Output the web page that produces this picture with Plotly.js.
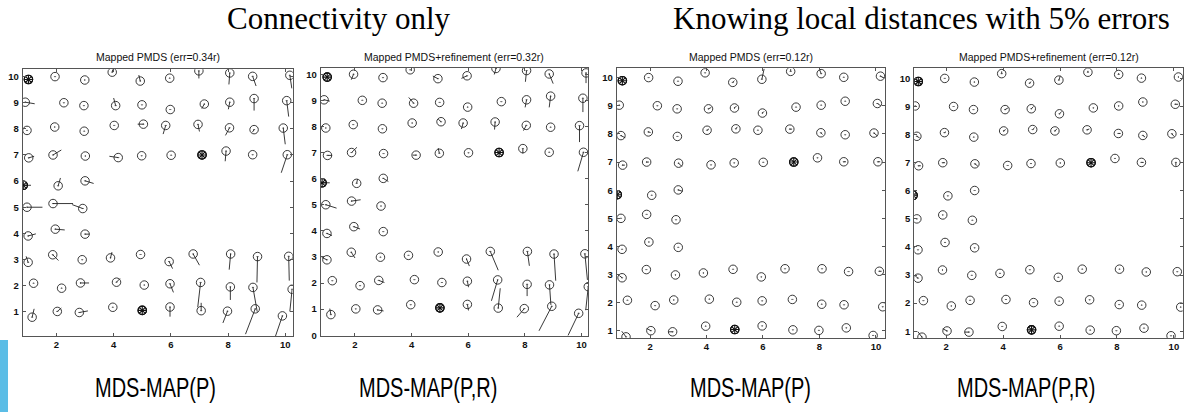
<!DOCTYPE html>
<html><head><meta charset="utf-8">
<script src="https://cdn.plot.ly/plotly-3.0.1.min.js"></script>
<style>html,body{margin:0;padding:0;background:#fff}#chart{width:1189px;height:412px}</style>
</head><body><div id="chart"></div>
<script>
// True node positions (rows 10..1)
const nodeX = [
 1.02,1.95,2.99,3.95,4.93,5.96,6.98,8.06,8.86,10.16,
 0.91,2.26,2.96,4.07,4.99,5.98,7.17,8.06,8.91,10.05,
 0.97,1.94,2.97,4.02,5.04,5.82,6.95,8.05,8.91,9.93,
 1.03,1.88,3.01,4.16,4.98,6.01,7.09,7.93,8.86,10.07,
 0.84,2.06,3.00,
 0.97,1.88,2.92,
 1.01,1.96,3.00,
 1.01,1.87,2.90,3.89,4.94,5.94,6.78,8.09,9.03,10.12,
 1.20,2.18,2.84,4.10,5.07,5.97,7.04,8.08,8.87,10.24,
 1.15,2.03,2.80,3.97,5.00,5.97,7.06,7.98,8.95,9.90];
const nodeY = [
 9.89,10.0,9.87,10.17,9.83,9.94,10.22,10.14,10.01,10.05,
 9.02,9.00,8.89,8.89,8.92,8.74,8.95,9.02,9.16,9.08,
 7.94,8.07,7.91,8.13,8.18,8.13,8.17,8.04,7.97,8.03,
 6.89,7.00,6.96,6.90,6.97,6.99,7.00,7.15,7.01,7.01,
 5.84,5.82,6.01,
 5.00,5.14,4.95,
 3.90,4.16,3.97,
 2.89,3.18,2.99,3.06,3.19,2.92,3.21,3.21,3.11,3.12,
 2.09,1.90,2.10,2.13,2.02,2.07,2.12,1.95,1.93,1.86,
 0.79,1.01,0.97,1.17,1.05,1.18,1.04,1.02,1.11,0.84];
const anchorIdx = [0, 36, 40, 73];

// Position errors (estimated - true) for each panel
const p1dx = [0,0,0,0.02,-0.05,0,0,-0.03,0.12,0.07, 0.33,0,0,-0.07,0,0,-0.09,-0.05,0,0.07, 0,0,0,0,-0.2,-0.09,0.05,-0.14,-0.06,0.07, 0.19,0.29,0,-0.31,0,0,0,-0.03,0,-0.21, 0.27,0.08,0.3, 0.54,0.7,-0.37, 0.27,0.33,0.16, -0.07,0.2,0,0.05,0,0.12,0.22,-0.05,-0.02,0.02, 0,0,0.3,0.12,0,0.12,-0.1,0,0.15,-0.08, 0.07,0.14,0.3,0,0,0,0,-0.16,-0.34,-0.24];
const p1dy = [0,0,0,0.11,0.23,0,-0.29,-0.44,-0.37,-0.5, -0.06,0,0,0.29,0,0,-0.17,-0.27,-0.46,-0.61, 0,0,0,0,0,-0.33,-0.27,-0.29,-0.1,-0.62, 0.06,0.19,0,0.05,0,0,0,-0.39,0,-0.69, 0,0.3,-0.1, 0,0,0.15, 0.08,-0.03,0, 0.23,-0.22,0,0.22,0,-0.27,-0.43,-0.6,-0.99,-0.93, 0,0,0,0.14,0,-0.33,-0.95,-0.5,-0.93,-0.85, 0.32,0.13,0.06,0,0,-0.37,0.3,-0.45,-0.97,-0.77];
const p2dx = [0,-0.08,0,0,-0.18,-0.2,-0.06,-0.04,0.14,0, 0.2,0,0,-0.17,0,0,0,-0.05,-0.05,0, 0,0,0,0,-0.1,-0.06,-0.02,-0.1,0,0, 0.16,0.19,0,-0.12,-0.04,0,0,0,0,-0.2, 0.27,0.03,0.18, 0.38,0.32,0, 0.18,0.22,0, -0.18,0.13,0,0,0,0.1,0.28,0.07,0.06,0.09, 0,0,0.2,0,0,0.04,-0.22,0,0.05,-0.09, -0.04,0,0.21,0,0,0.04,0.07,-0.26,-0.45,-0.38];
const p2dy = [0,-0.21,0,0,0.1,-0.1,-0.23,-0.43,-0.37,-0.39, -0.05,0,0,0.22,0,0,0,-0.29,-0.43,-0.53, 0,0,0,0,0.1,-0.23,-0.29,-0.2,0,-0.63, 0,0.2,0,0,0.2,0,0,-0.19,0,-0.73, 0,0.16,-0.12, -0.13,0.05,0, -0.08,-0.09,0, 0.09,-0.22,0,0,0,-0.27,-0.72,-0.55,-1.02,-1.0, 0,0,-0.08,0,0,-0.23,-0.8,-0.45,-0.77,-0.9, 0.23,0,-0.04,0,0,-0.23,0.76,-0.33,-0.94,-0.86];
const p3dx = [-0.1,0,0,0,0.06,0.08,0,-0.06,0,0.1, 0,0,0,0.1,0.08,0.06,0,0,0,0.12, 0.15,0.08,0,0.07,0.05,0,0.08,0.06,0,0.12, 0.08,0.08,0.12,0,0,0,0,0,0.08,0.08, 0,0,0.15, 0,0,0, 0,0,0, -0.1,0,0,0,0,0,0,0,0,0.08, 0,0,0,0,0,0,0,0,0,0, -0.15,-0.15,-0.15,0,0,0,0,0,0,0];
const p3dy = [0.1,0,0,0,0.06,0.37,0.08,0.15,0,-0.05, 0,0,0,0.05,0.08,0.06,0,0,0,-0.08, -0.08,-0.02,0,0.05,0.07,0,0,-0.06,0,-0.1, 0,0,-0.12,0,0,0,0,0,0,0, 0,0,-0.05, 0,0,0, 0,0,0, 0.08,0,0,0,0,0,0,0,0,0, 0,0,0,0,0,0,0,0,0,0, 0.2,0.08,0,0,0,0,0,0,0,0];
const p4dx = [-0.1,0,0,0,0.06,0.05,0,0,0,0, 0,0,0,0.1,0.08,0.08,0,0,0,0.1, 0.1,0.05,0,0.07,0.07,0.07,0.08,0.08,0.08,0.08, 0.08,0.08,0.1,0,0,0,0,0,0.08,0, 0.12,0,0, 0,0,0, 0,0,0, -0.1,0,0,0,0,0,0,0,0,0, 0,0,0,0,0,0,0,0,0,0, -0.15,-0.15,-0.15,0,0,0,0,0,0,0];
const p4dy = [0.08,0,0,0.08,0.06,0.15,0.05,0.05,0,0, 0,0,0,0.06,0.08,0.08,0,0,0,0, -0.06,0.03,0,0.05,0.07,0.07,0.03,0,-0.06,-0.1, 0,0,-0.08,0,0,0,0,0,0,-0.12, 0.02,0,0, 0,0,0, 0,0,0, 0.08,0,0,0,0,0,0,0,0,0, 0,0,0,0,0,0,0,0,0,0, 0.2,0.08,0,0,0,0,0,0,0,0];

const panelTitles = ["Mapped PMDS (err=0.34r)","Mapped PMDS+refinement (err=0.32r)","Mapped PMDS (err=0.12r)","Mapped PMDS+refinement (err=0.12r)"];
const headers = ["Connectivity only","Knowing local distances with 5% errors"];
const methodLabels = ["MDS-MAP(P)","MDS-MAP(P,R)","MDS-MAP(P)","MDS-MAP(P,R)"];
const xTicks = [2,4,6,8,10];
const yTicksA = [1,2,3,4,5,6,7,8,9,10];
const yTicksB = [0,1,2,3,4,5,6,7,8,9,10];

const W = 1189, H = 412;
const boxes = [ // pixel boxes [left, right, top, bottom]
  [22.7, 292.7, 69.3, 336],
  [320.7, 588, 67.7, 335.5],
  [616.7, 885, 68.3, 338],
  [914.3, 1182.7, 68.3, 338]
];
const xRanges = [[0.82,10.26],[0.79,10.23],[0.82,10.32],[0.88,10.31]];
const yRanges = [[0.07,10.28],[-0.01,10.25],[0.75,10.33],[0.76,10.36]];
const errs = [[p1dx,p1dy],[p2dx,p2dy],[p3dx,p3dy],[p4dx,p4dy]];

const traces = [];
const layout = {
  width: W, height: H, margin:{l:0,r:0,t:0,b:0}, showlegend:false,
  paper_bgcolor:'#fff', plot_bgcolor:'#fff',
  annotations: [], shapes: [],
  font:{family:'"Liberation Sans", Arial, sans-serif', color:'#111'}
};

for (let p = 0; p < 4; p++) {
  const sfx = p === 0 ? '' : String(p+1);
  const xa = 'x' + sfx, ya = 'y' + sfx;
  const [dx, dy] = errs[p];
  const lx = [], ly = [];
  for (let i = 0; i < nodeX.length; i++) {
    if (dx[i] !== 0 || dy[i] !== 0) {
      lx.push(nodeX[i], nodeX[i] + dx[i], null);
      ly.push(nodeY[i], nodeY[i] + dy[i], null);
    }
  }
  traces.push({x: lx, y: ly, xaxis: xa, yaxis: ya, mode: 'lines', type: 'scatter',
    line: {color: '#222', width: 0.9}, hoverinfo: 'skip'});
  const nx = [], ny = [], ax = [], ay = [];
  for (let i = 0; i < nodeX.length; i++) {
    if (anchorIdx.includes(i)) { ax.push(nodeX[i]); ay.push(nodeY[i]); }
    else { nx.push(nodeX[i]); ny.push(nodeY[i]); }
  }
  traces.push({x: nx, y: ny, xaxis: xa, yaxis: ya, mode: 'markers', type: 'scatter',
    marker: {symbol: 'circle-open-dot', size: 8.5, color: '#222', line: {width: 0.9, color: '#222'}}});
  traces.push({x: ax, y: ay, xaxis: xa, yaxis: ya, mode: 'markers', type: 'scatter',
    marker: {symbol: 'circle-x-open', size: 8.5, color: '#111', line: {width: 1.1, color: '#111'}}});
  traces.push({x: ax, y: ay, xaxis: xa, yaxis: ya, mode: 'markers', type: 'scatter',
    marker: {symbol: 'circle-cross-open', size: 8.5, color: '#111', line: {width: 1.1, color: '#111'}}});

  const b = boxes[p];
  const axisCommon = {showgrid:false, zeroline:false, showline:true, mirror:'ticks',
    linecolor:'#555', linewidth:1, ticks:'inside', ticklen:3, tickcolor:'#555',
    tickfont:{family:'"Liberation Sans", Arial, sans-serif', size:9.5, color:'#111', weight:'bold'}};
  layout['xaxis' + sfx] = Object.assign({}, axisCommon, {
    domain:[b[0]/W, b[1]/W], range: xRanges[p], anchor: ya,
    tickmode:'array', tickvals: xTicks, ticktext: xTicks.map(String)});
  const yt = p === 1 ? yTicksB : yTicksA;
  layout['yaxis' + sfx] = Object.assign({}, axisCommon, {
    domain:[1 - b[3]/H, 1 - b[2]/H], range: yRanges[p], anchor: xa,
    tickmode:'array', tickvals: yt, ticktext: yt.map(String), ticklabelstandoff: 1});
  layout.annotations.push({text: panelTitles[p], xref:'paper', yref:'paper',
    x: (b[0]+b[1])/2/W, y: 1 - 57/H, xanchor:'center', yanchor:'middle', showarrow:false,
    font:{family:'"Liberation Sans", Arial, sans-serif', size:10.5, color:'#111'}});
}

const headerX = [339, 921];
headers.forEach((t, i) => layout.annotations.push({text: t, xref:'paper', yref:'paper',
  x: headerX[i]/W, y: 1 - 19/H, xanchor:'center', yanchor:'middle', showarrow:false,
  font:{family:'"Liberation Serif", "Times New Roman", serif', size:31, color:'#000'}}));

const methodLeft = [93, 357, 688, 955];
methodLabels.forEach((t, i) => layout.annotations.push({text: t, xref:'paper', yref:'paper',
  x: methodLeft[i]/W, y: 1 - 388/H, xanchor:'left', yanchor:'middle', showarrow:false,
  font:{family:'"Liberation Sans", Arial, sans-serif', size:27, color:'#000'}}));

layout.shapes.push({type:'rect', xref:'paper', yref:'paper', x0:0, x1:8/W, y0:0, y1:1-340/H,
  fillcolor:'#5bbde6', line:{width:0}});

Plotly.newPlot('chart', traces, layout, {displayModeBar:false, staticPlot:true}).then(gd => {
  // condensed look for the method labels (narrow sans face)
  gd.querySelectorAll('.annotation-text').forEach(t => {
    if (methodLabels.includes(t.textContent)) {
      const bb = t.getBBox();
      const cx = bb.x;
      t.setAttribute('transform', `translate(${cx},0) scale(0.74,1) translate(${-cx},0)`);
    }
  });
});
</script></body></html>
